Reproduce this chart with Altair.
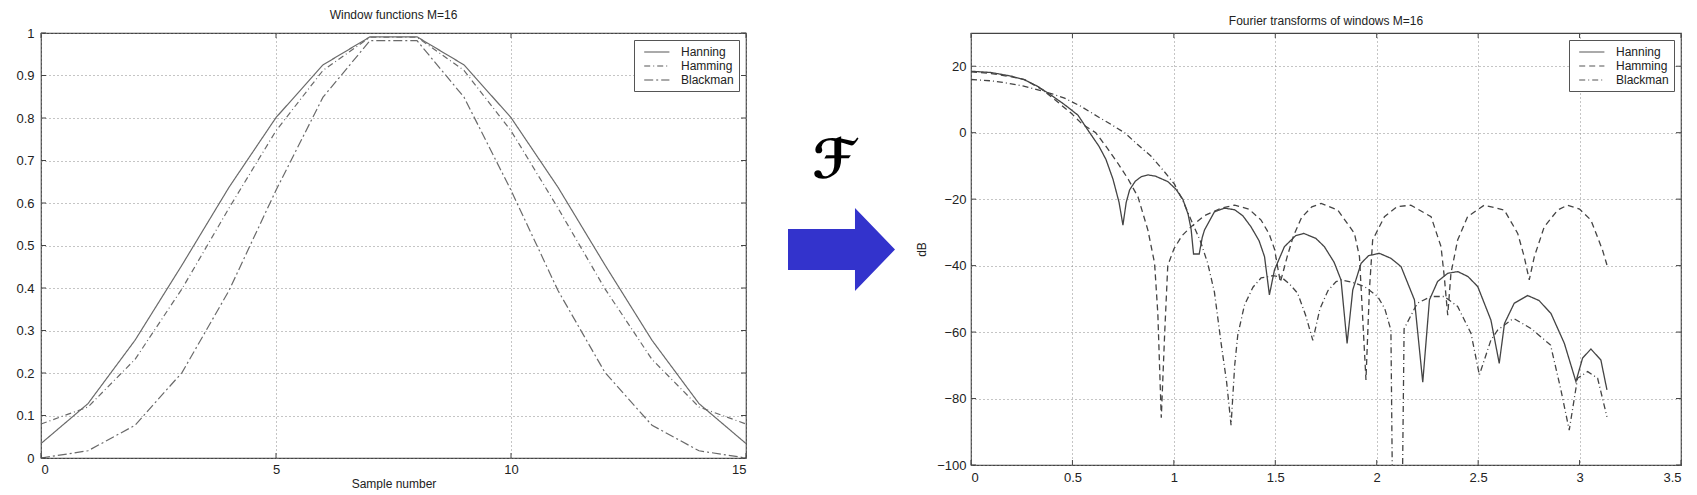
import altair as alt
import pandas as pd

FONT = "Liberation Sans"
NAMES = ["Hanning", "Hamming", "Blackman"]

# window functions, M=16
samples = [0, 1, 2, 3, 4, 5, 6, 7, 8, 9, 10, 11, 12, 13, 14, 15]
hanning = [0.034, 0.128, 0.277, 0.454, 0.637, 0.801, 0.925, 0.991,
           0.991, 0.925, 0.801, 0.637, 0.454, 0.277, 0.128, 0.034]
hamming = [0.08, 0.12, 0.232, 0.398, 0.588, 0.77, 0.912, 0.99,
           0.99, 0.912, 0.77, 0.588, 0.398, 0.232, 0.12, 0.08]
blackman = [0.0, 0.017, 0.077, 0.201, 0.394, 0.63, 0.849, 0.982,
            0.982, 0.849, 0.63, 0.394, 0.201, 0.077, 0.017, 0.0]

# magnitude responses in dB, (omega, dB)
hanning_db = [(0.00, 18.5), (0.10, 18.1), (0.20, 17.0), (0.264, 15.9), (0.33, 13.9),
              (0.395, 11.3), (0.46, 8.5), (0.527, 5.3), (0.585, 0.0), (0.63, -4.0),
              (0.665, -8.0), (0.70, -14.0), (0.73, -21.0), (0.749, -27.8), (0.765, -21.0),
              (0.782, -17.2), (0.81, -14.6), (0.84, -13.2), (0.872, -12.7), (0.91, -13.1),
              (0.97, -14.7), (1.01, -17.0), (1.044, -20.0), (1.07, -24.5), (1.085, -29.0),
              (1.097, -36.5), (1.125, -36.5), (1.14, -31.5), (1.151, -29.3), (1.20, -23.8),
              (1.25, -22.7), (1.30, -23.2), (1.34, -25.0), (1.38, -28.3), (1.42, -32.5),
              (1.447, -37.3), (1.471, -48.8), (1.496, -41.3), (1.545, -34.3), (1.60, -31.0),
              (1.64, -30.3), (1.70, -31.8), (1.742, -34.3), (1.79, -39.0), (1.824, -44.3),
              (1.854, -63.4), (1.882, -47.3), (1.923, -39.3), (1.96, -37.0), (2.013, -36.3),
              (2.07, -37.8), (2.12, -40.3), (2.186, -50.3), (2.227, -75.1), (2.26, -50.3),
              (2.30, -44.8), (2.35, -42.3), (2.40, -41.8), (2.45, -43.3), (2.498, -46.3),
              (2.563, -56.4), (2.604, -69.4), (2.63, -57.4), (2.678, -51.3), (2.744, -49.0),
              (2.80, -50.5), (2.859, -54.4), (2.925, -63.4), (2.982, -74.9), (3.015, -67.8),
              (3.056, -65.1), (3.105, -68.4), (3.135, -77.4)]
hamming_db = [(0.00, 18.3), (0.10, 17.8), (0.20, 16.8), (0.264, 16.0), (0.35, 13.0),
              (0.42, 9.6), (0.493, 5.9), (0.55, 2.5), (0.615, 0.0), (0.67, -4.5),
              (0.724, -9.2), (0.775, -14.0), (0.823, -19.3), (0.872, -29.3), (0.905, -39.3),
              (0.921, -54.4), (0.938, -85.8), (0.955, -60.0), (0.97, -40.0), (1.00, -35.0),
              (1.04, -31.0), (1.085, -28.3), (1.15, -25.0), (1.233, -22.7), (1.30, -21.8),
              (1.37, -23.0), (1.43, -26.3), (1.47, -30.5), (1.496, -35.0), (1.525, -45.0),
              (1.56, -37.0), (1.59, -31.0), (1.63, -25.5), (1.68, -22.3), (1.726, -21.3),
              (1.808, -23.3), (1.89, -30.3), (1.915, -37.3), (1.947, -74.4), (1.964, -47.3),
              (1.98, -32.3), (2.038, -25.3), (2.10, -22.3), (2.168, -21.8), (2.268, -25.3),
              (2.317, -34.3), (2.333, -43.3), (2.35, -54.9), (2.366, -42.3), (2.399, -32.3),
              (2.448, -25.3), (2.53, -21.8), (2.629, -23.3), (2.695, -30.3), (2.727, -37.3),
              (2.752, -44.3), (2.777, -37.3), (2.826, -28.3), (2.892, -23.3), (2.94, -21.8),
              (3.00, -23.0), (3.056, -26.3), (3.113, -35.3), (3.135, -39.8)]
blackman_db = [(0.00, 16.0), (0.10, 15.6), (0.182, 14.9), (0.26, 14.0), (0.33, 12.9),
               (0.40, 11.7), (0.461, 10.4), (0.54, 8.0), (0.626, 4.8), (0.69, 2.5),
               (0.757, 0.0), (0.82, -3.5), (0.888, -7.1), (0.95, -11.5), (1.003, -15.5),
               (1.045, -20.5), (1.085, -26.3), (1.13, -32.5), (1.167, -39.3), (1.20, -48.0),
               (1.233, -63.4), (1.26, -75.0), (1.282, -88.0), (1.30, -70.0), (1.315, -60.9),
               (1.348, -51.9), (1.39, -46.5), (1.43, -43.7), (1.49, -43.0), (1.53, -43.5),
               (1.57, -45.5), (1.61, -48.3), (1.65, -55.0), (1.685, -62.5), (1.72, -53.0),
               (1.76, -47.5), (1.80, -44.8), (1.824, -44.3), (1.88, -45.0), (1.94, -46.3),
               (2.005, -49.3), (2.04, -53.0), (2.07, -59.4), (2.078, -110.0), (2.126, -110.0),
               (2.135, -59.0), (2.20, -51.3), (2.268, -49.3), (2.333, -49.3), (2.399, -52.3),
               (2.465, -60.4), (2.506, -72.9), (2.563, -62.4), (2.596, -59.4), (2.662, -56.4),
               (2.678, -56.0), (2.76, -58.9), (2.857, -63.9), (2.908, -77.4), (2.949, -89.5),
               (2.99, -73.9), (3.04, -71.9), (3.089, -73.9), (3.135, -85.5)]

left_yticks = [0, 0.1, 0.2, 0.3, 0.4, 0.5, 0.6, 0.7, 0.8, 0.9, 1]
left_xticks = [0, 5, 10, 15]
right_yticks = [-100, -80, -60, -40, -20, 0, 20]
right_xticks = [0, 0.5, 1, 1.5, 2, 2.5, 3, 3.5]

TICK = 5


def make_axis(values, title='', **kw):
    opts = dict(values=values, title=title, grid=True, gridDash=[1, 3], gridColor='#8a8a8a',
                ticks=False, domain=False, format='.6~g',
                labelFont=FONT, labelFontSize=13, labelColor='#222',
                titleFont=FONT, titleFontSize=12, titleFontWeight='normal', titleColor='#222')
    opts.update(kw)
    return alt.Axis(**opts)


def make_legend():
    # short rows with a long line sample, like the MATLAB legend box
    return alt.Legend(title=None, orient='top-right', offset=7, fillColor='white',
                      strokeColor='#555', padding=5, labelFont=FONT, labelFontSize=12,
                      labelColor='#222', symbolType='M-0.3,0H3.9', symbolSize=144,
                      symbolStrokeWidth=1.2, symbolStrokeColor='#555',
                      rowPadding=1, labelOffset=28)


def inner_ticks(xvals, yvals, xenc, yenc, w, h):
    # MATLAB-style ticks pointing into the box on all four sides
    base_x = alt.Chart(pd.DataFrame({'t': xvals})).mark_rule(color='#444', strokeWidth=1)
    base_y = alt.Chart(pd.DataFrame({'v': yvals})).mark_rule(color='#444', strokeWidth=1)
    return [
        base_x.encode(x=xenc, y=alt.value(h), y2=alt.value(h - TICK)),
        base_x.encode(x=xenc, y=alt.value(0), y2=alt.value(TICK)),
        base_y.encode(y=yenc, x=alt.value(0), x2=alt.value(TICK)),
        base_y.encode(y=yenc, x=alt.value(w), x2=alt.value(w - TICK)),
    ]


# left panel
left_df = pd.concat([
    pd.DataFrame({'t': samples, 'v': vals, 'window': name})
    for name, vals in zip(NAMES, [hanning, hamming, blackman])
])

lx = alt.X('t:Q', scale=alt.Scale(domain=[0, 15], nice=False),
           axis=make_axis(left_xticks, 'Sample number', labelPadding=5, titlePadding=2))
ly = alt.Y('v:Q', scale=alt.Scale(domain=[0, 1], nice=False),
           axis=make_axis(left_yticks, labelPadding=7))

left_lines = alt.Chart(left_df).mark_line(strokeWidth=1.2, color='#6a6a6a').encode(
    x=lx, y=ly,
    strokeDash=alt.StrokeDash('window:N',
                              scale=alt.Scale(domain=NAMES, range=[[1, 0], [6, 3, 1, 3], [9, 3, 2, 3]]),
                              legend=make_legend())
)

left = alt.layer(left_lines, *inner_ticks(left_xticks, left_yticks, lx, ly, 705, 425)).properties(
    width=705, height=425,
    title=alt.TitleParams('Window functions M=16', font=FONT, fontSize=12, fontWeight='normal',
                          color='#222', offset=5, anchor='middle', frame='group')
)

# right panel
right_df = pd.concat([
    pd.DataFrame({'t': [p[0] for p in pts], 'v': [p[1] for p in pts], 'window': name})
    for name, pts in zip(NAMES, [hanning_db, hamming_db, blackman_db])
])

rx = alt.X('t:Q', scale=alt.Scale(domain=[0, 3.5], nice=False),
           axis=make_axis(right_xticks, labelPadding=6))
ry = alt.Y('v:Q', scale=alt.Scale(domain=[-100, 30], nice=False),
           axis=make_axis(right_yticks, 'dB', labelPadding=5, titlePadding=8))

lines = alt.Chart(right_df).mark_line(strokeWidth=1.3, color='#444', clip=True).encode(
    x=rx, y=ry,
    strokeDash=alt.StrokeDash('window:N',
                              scale=alt.Scale(domain=NAMES, range=[[1, 0], [6, 4], [6, 3, 1, 3]]),
                              legend=make_legend())
)

# the Fourier-transform arrow between the panels
marker_df = pd.DataFrame({'k': [0]})
arrow_path = 'M-1,-0.383L0.252,-0.383L0.252,-0.776L1,0L0.252,0.776L0.252,0.383L-1,0.383Z'
arrow = alt.Chart(marker_df).mark_point(
    shape=arrow_path, filled=True, fill='#3333cc', strokeWidth=0, size=11449, opacity=1
).encode(x=alt.value(-129.5), y=alt.value(216.5))

fsym = alt.Chart(marker_df).mark_text(
    text='\u2131', font='DejaVu Sans', fontSize=54, fontWeight='bold', color='black',
    align='center', baseline='middle'
).encode(x=alt.value(-137), y=alt.value(129))

right = alt.layer(lines, *inner_ticks(right_xticks, right_yticks, rx, ry, 710, 432), arrow, fsym).properties(
    width=710, height=432,
    title=alt.TitleParams('Fourier transforms of windows M=16', font=FONT, fontSize=12,
                          fontWeight='normal', color='#222', offset=5, anchor='middle', frame='group')
)

chart = alt.hconcat(left, right, spacing=38).resolve_scale(
    strokeDash='independent'
).resolve_legend(
    strokeDash='independent'
).properties(
    padding={'left': 7, 'top': 0, 'right': 0, 'bottom': 0}
).configure_view(stroke='#444', strokeWidth=1.2)

chart.save("out.html", embed_options={"renderer": "svg", "actions": False})
